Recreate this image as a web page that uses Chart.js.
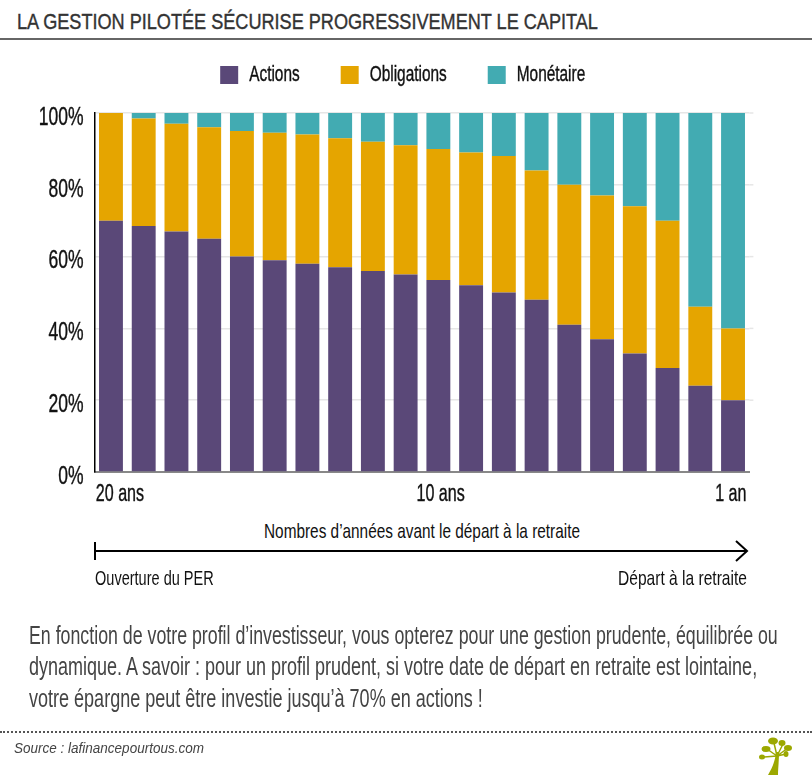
<!DOCTYPE html>
<html lang="fr">
<head>
<meta charset="utf-8">
<title>La gestion pilotée</title>
<script src="https://cdn.jsdelivr.net/npm/chart.js@4/dist/chart.umd.min.js"></script>
<style>
    html, body { margin: 0; padding: 0; background: #fff; }
    body { position: relative; width: 812px; height: 775px; overflow: hidden; font-family: "Liberation Sans", sans-serif; }
    #myChart { position: absolute; left: 0; top: 0; }
    .txt { position: absolute; white-space: nowrap; color: #111; transform-origin: 0 0; }
    #title { left: 17px; top: 9px; font-size: 22px; color: #333; -webkit-text-stroke: 0.4px #333; }
    #rule { position: absolute; left: 0; top: 38px; width: 812px; border-top: 2px solid #666; }
    #axis-title { left: 264px; top: 519px; font-size: 21px; }
    #start-label { left: 95px; top: 566px; font-size: 21px; }
    #end-label { left: 618px; top: 566px; font-size: 21px; }
    .para { left: 29px; font-size: 26px; color: #444; }
    #dots { position: absolute; left: 0; top: 731px; width: 812px; border-top: 2px dotted #555; }
    #source { left: 14px; top: 739px; font-size: 15px; font-style: italic; color: #444; }
    svg { position: absolute; left: 0; top: 0; }
</style>
</head>
<body>
<div class="txt" id="title" data-w="581">LA GESTION PILOTÉE SÉCURISE PROGRESSIVEMENT LE CAPITAL</div>
<div id="rule"></div>
<canvas id="myChart" width="812" height="512"></canvas>
<div class="txt" id="axis-title" data-w="316">Nombres d’années avant le départ à la retraite</div>
<svg width="812" height="775">
    <path d="M95 542V560M95 551H746M736 541L747 551L736 561" fill="none" stroke="#000" stroke-width="2"/>
    <g fill="#9ca800">
        <path d="M768 775C772 768 775 762 776 752L779 752C779 762 778 768 778 775Z"/>
        <path d="M777 756L767 749M777 756L764 757M777 756L774 743M777 756L783 744M777 756L788 748M777 756L786 754" stroke="#9ca800" stroke-width="1.5"/>
        <ellipse cx="773" cy="741" rx="5" ry="3.5"/>
        <ellipse cx="782" cy="743" rx="3.5" ry="3"/>
        <ellipse cx="788" cy="748" rx="4" ry="3"/>
        <ellipse cx="786" cy="754" rx="2.5" ry="3"/>
        <ellipse cx="766" cy="749" rx="4.5" ry="3"/>
        <ellipse cx="762" cy="757" rx="3" ry="2.5"/>
    </g>
</svg>
<div class="txt" id="start-label" data-w="119">Ouverture du PER</div>
<div class="txt" id="end-label" data-w="129">Départ à la retraite</div>
<div class="txt para" data-w="749" style="top:620px">En fonction de votre profil d’investisseur, vous opterez pour une gestion prudente, équilibrée ou</div>
<div class="txt para" data-w="728" style="top:651px">dynamique. A savoir : pour un profil prudent, si votre date de départ en retraite est lointaine,</div>
<div class="txt para" data-w="454" style="top:683px">votre épargne peut être investie jusqu’à 70% en actions !</div>
<div id="dots"></div>
<div class="txt" id="source" data-w="190">Source : lafinancepourtous.com</div>
<script>
const years = ['20 ans', '19', '18', '17', '16', '15', '14', '13', '12', '11', '10 ans', '9', '8', '7', '6', '5', '4', '3', '2', '1 an'];
const shownLabels = {0: '\u00a0\u00a0\u00a0\u00a020 ans', 10: '\u00a010 ans', 19: '1 an\u00a0'};
const actions = [70, 68.5, 67, 65, 60, 59, 58, 57, 56, 55, 53.5, 52, 50, 48, 41, 37, 33, 29, 24, 20];
const obligations = [30, 30, 30, 31, 35, 35.5, 36, 36, 36, 36, 36.5, 37, 38, 36, 39, 40, 41, 41, 22, 20];
const monetaire = [0, 1.5, 3, 4, 5, 5.5, 6, 7, 8, 9, 10, 11, 12, 16, 20, 23, 26, 30, 54, 60];

const fontFamily = '"Liberation Sans", sans-serif';

// no condensed font installed: squeeze html text to the widths of the original
document.querySelectorAll('.txt').forEach(el => {
    el.style.transform = `scaleX(${el.dataset.w / el.offsetWidth})`;
});

// same for the text chart.js draws on the canvas, with a thin stroke for the weight
const canvas = document.getElementById('myChart');
const ctx = canvas.getContext('2d');
const narrow = 0.7;
const fillText = ctx.fillText.bind(ctx);
const measureText = ctx.measureText.bind(ctx);
ctx.fillText = function(text, x, y) {
    ctx.save();
    ctx.translate(x, y);
    ctx.scale(narrow, 1);
    ctx.strokeStyle = ctx.fillStyle;
    ctx.lineWidth = 0.4;
    ctx.strokeText(text, 0, 0);
    fillText(text, 0, 0);
    ctx.restore();
};
ctx.measureText = text => ({ width: measureText(text).width * narrow });

// gridlines run a few pixels past the last bar in the original
const gridExtend = {
    id: 'gridExtend',
    beforeDatasetsDraw(chart) {
        const { ctx, chartArea, scales } = chart;
        ctx.save();
        ctx.strokeStyle = '#e6e6e6';
        ctx.lineWidth = 1.5;
        scales.y.ticks.forEach(tick => {
            if (tick.value === 0) return;
            const y = scales.y.getPixelForValue(tick.value);
            ctx.beginPath();
            ctx.moveTo(chartArea.right, y);
            ctx.lineTo(chartArea.right + 4, y);
            ctx.stroke();
        });
        ctx.restore();
    }
};

// legend padding is also its vertical padding, keep the box short and move it right
const legendPlace = {
    id: 'legendPlace',
    beforeLayout(chart) {
        const legend = chart.legend;
        if (legend.fitPatched) return;
        const fit = legend.fit;
        legend.fit = function() {
            fit.call(this);
            this.height = 90;
        };
        legend.fitPatched = true;
    },
    afterLayout(chart) {
        chart.legend.left += 13;
        chart.legend.right += 13;
    }
};

new Chart(ctx, {
    type: 'bar',
    plugins: [gridExtend, legendPlace],
    data: {
        labels: years,
        datasets: [
            { label: 'Actions', data: actions, backgroundColor: '#5a4878' },
            { label: 'Obligations', data: obligations, backgroundColor: '#e5a500' },
            { label: 'Monétaire', data: monetaire, backgroundColor: '#42abb2' }
        ]
    },
    options: {
        responsive: false,
        animation: false,
        devicePixelRatio: 1,
        categoryPercentage: 1,
        barPercentage: 0.73,
        layout: { padding: { left: 30, right: 62.6, top: 23, bottom: 0 } },
        plugins: {
            tooltip: { enabled: false },
            legend: {
                position: 'top',
                labels: {
                    boxWidth: 18,
                    boxHeight: 18,
                    padding: 41,
                    color: '#111',
                    font: { family: fontFamily, size: 22 }
                }
            }
        },
        scales: {
            x: {
                stacked: true,
                afterFit(scale) { scale.height = 40; },
                grid: { display: false, drawTicks: false },
                border: { color: '#888', width: 2 },
                ticks: {
                    autoSkip: false,
                    maxRotation: 0,
                    padding: 9,
                    color: '#111',
                    font: { family: fontFamily, size: 23 },
                    callback: (value, index) => shownLabels[index] || ''
                }
            },
            y: {
                stacked: true,
                min: 0,
                max: 100,
                afterFit(scale) { scale.width = 64.6; },
                grid: { color: '#e6e6e6', lineWidth: 1.5, drawTicks: false },
                border: { color: '#000', width: 1.5 },
                ticks: {
                    stepSize: 20,
                    padding: 11,
                    labelOffset: 5,
                    color: '#111',
                    font: { family: fontFamily, size: 25 },
                    callback: value => value + '%'
                }
            }
        }
    }
});
</script>
</body>
</html>
